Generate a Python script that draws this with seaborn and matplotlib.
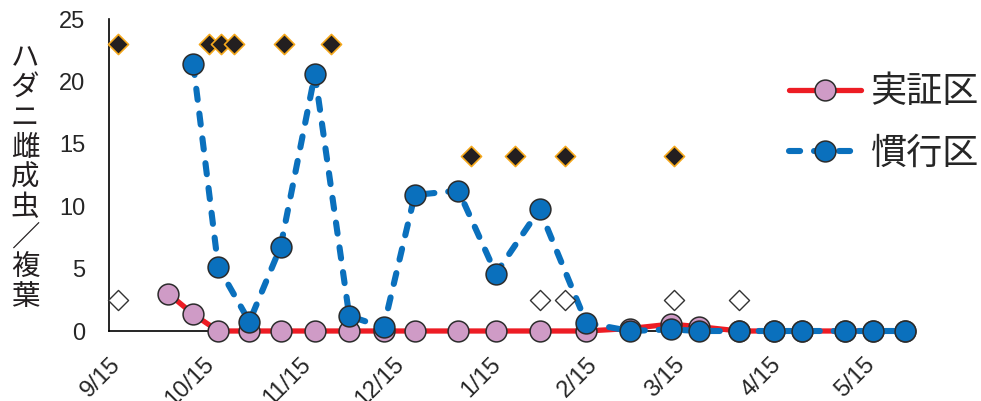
import matplotlib
matplotlib.use("Agg")
import matplotlib.pyplot as plt
import matplotlib.transforms as mtrans
import numpy as np
import pandas as pd
import seaborn as sns

# ---------------- data ----------------
base_date = "2018-09-15"
sample_dates = ["2018-10-04", "2018-10-12", "2018-10-20", "2018-10-30", "2018-11-09",
                "2018-11-20", "2018-12-01", "2018-12-12", "2018-12-22", "2019-01-05",
                "2019-01-17", "2019-01-31", "2019-02-15", "2019-03-01", "2019-03-14",
                "2019-03-23", "2019-04-05", "2019-04-16", "2019-04-25", "2019-05-09",
                "2019-05-18", "2019-05-28"]
jissho_vals = [3.0, 1.35, 0, 0, 0, 0, 0, 0, 0, 0, 0, 0, 0, 0.2, 0.55, 0.35,
               0, 0, 0, 0, 0, 0]
kanko_dates = sample_dates[1:]
kanko_vals = [21.4, 5.15, 0.75, 6.75, 20.6, 1.2, 0.3, 10.9, 11.25, 4.6, 9.75,
              0.65, 0.0, 0.13, 0.0, 0, 0, 0, 0, 0, 0]
black_dates = ["2018-09-18", "2018-10-17", "2018-10-21", "2018-10-25", "2018-11-10",
               "2018-11-25", "2019-01-09", "2019-01-23", "2019-02-08", "2019-03-15"]
black_vals = [23, 23, 23, 23, 23, 23, 14, 14, 14, 14]
white_dates = ["2018-09-18", "2019-01-31", "2019-02-08", "2019-03-15", "2019-04-05"]
white_vals = [2.5, 2.5, 2.5, 2.5, 2.5]
tick_dates = ["2018-09-15", "2018-10-15", "2018-11-15", "2018-12-15", "2019-01-15",
              "2019-02-15", "2019-03-15", "2019-04-15", "2019-05-15"]
tick_labels = ["9/15", "10/15", "11/15", "12/15", "1/15", "2/15", "3/15", "4/15", "5/15"]
y_ticks = [0, 5, 10, 15, 20, 25]
series_names = ["実証区", "慣行区"]
ylabel_text = "ハダニ雌成虫／複葉"


def to_days(dates):
    b = pd.Timestamp(base_date)
    return [(pd.Timestamp(d) - b).days for d in dates]


df_j = pd.DataFrame({"day": to_days(sample_dates), "val": jissho_vals})
df_k = pd.DataFrame({"day": to_days(kanko_dates), "val": kanko_vals})
df_b = pd.DataFrame({"day": to_days(black_dates), "val": black_vals})
df_w = pd.DataFrame({"day": to_days(white_dates), "val": white_vals})

# ---------------- style ----------------
sns.set_theme(style="white")
plt.rcParams["font.family"] = ["Liberation Sans Narrow", "Liberation Sans", "DejaVu Sans"]
plt.rcParams["lines.scale_dashes"] = False
cjk = ["Noto Sans CJK JP", "DejaVu Sans"]

RED = "#ed1c24"
PINK = "#cf9bc6"
BLUE = "#0a70bd"
EDGE = "#2b2b2b"

W, H = 981, 401
ax_left, ax_right, ax_top, ax_bot = 109, 911, 19, 331
fig = plt.figure(figsize=(W / 100, H / 100), dpi=100)
ax = fig.add_axes([ax_left / W, 1 - ax_bot / H, (ax_right - ax_left) / W,
                   (ax_bot - ax_top) / H])

sns.lineplot(data=df_j, x="day", y="val", ax=ax, color=RED, linewidth=3.8,
             marker="o", markersize=15, markerfacecolor=PINK, markeredgecolor=EDGE,
             markeredgewidth=1.1, clip_on=False, label=series_names[0], zorder=3)
sns.lineplot(data=df_k, x="day", y="val", ax=ax, color=BLUE, linewidth=4.4,
             marker="o", markersize=15, markerfacecolor=BLUE, markeredgecolor=EDGE,
             markeredgewidth=1.1, clip_on=False, label=series_names[1], zorder=4)
line_k = ax.lines[-1]
line_k.set_dashes([8, 10])
line_k.set_dash_capstyle("round")
ax.lines[0].set_solid_capstyle("round")

sns.scatterplot(data=df_b, x="day", y="val", ax=ax, marker="D", s=105,
                color="#231f20", edgecolor="#f5a81c", linewidth=1.2,
                clip_on=False, zorder=5, legend=False)
sns.scatterplot(data=df_w, x="day", y="val", ax=ax, marker="D", s=105,
                color="white", edgecolor="#333333", linewidth=1.0,
                clip_on=False, zorder=5, legend=False)

ax.set_xlim(0, (ax_right - ax_left) / 3.12)
ax.set_ylim(0, 25)
ax.set_xticks(to_days(tick_dates))
ax.set_xticklabels(tick_labels, rotation=45, ha="right", va="top",
                   rotation_mode="anchor", fontsize=17)
offset = mtrans.ScaledTranslation(1 / 100, 0, fig.dpi_scale_trans)
for lbl in ax.get_xticklabels():
    lbl.set_transform(lbl.get_transform() + offset)
ax.set_yticks(y_ticks)
ax.set_yticklabels([str(v) for v in y_ticks], fontsize=17)
ax.tick_params(axis="x", direction="out", length=6, width=1.2, color="#aaaaaa", pad=10)
ax.tick_params(axis="y", direction="in", length=7, width=1.2, color="#aaaaaa", pad=17)
ax.set_xlabel("")
ax.set_ylabel("")
for s in ["top", "right"]:
    ax.spines[s].set_visible(False)
for s in ["left", "bottom"]:
    ax.spines[s].set_color("black")
    ax.spines[s].set_linewidth(1.2)

# vertical stacked y label
y0, y1 = 58, 297
n = len(ylabel_text)
for i, ch in enumerate(ylabel_text):
    ypix = y0 + (y1 - y0) * i / (n - 1)
    fig.text(25 / W, 1 - ypix / H, ch, family=cjk, fontsize=20.5,
             ha="center", va="center", color="#231f20")

handles, labels = ax.get_legend_handles_labels()
leg = ax.legend(handles, labels, loc="center left",
                bbox_to_anchor=(789 / W, 1 - 123 / H),
                bbox_transform=fig.transFigure, frameon=False,
                prop={"family": cjk, "size": 26}, handlelength=2.0,
                handletextpad=0.25, labelspacing=0.7, borderpad=0, borderaxespad=0)

fig.savefig("out.png", dpi=100)
